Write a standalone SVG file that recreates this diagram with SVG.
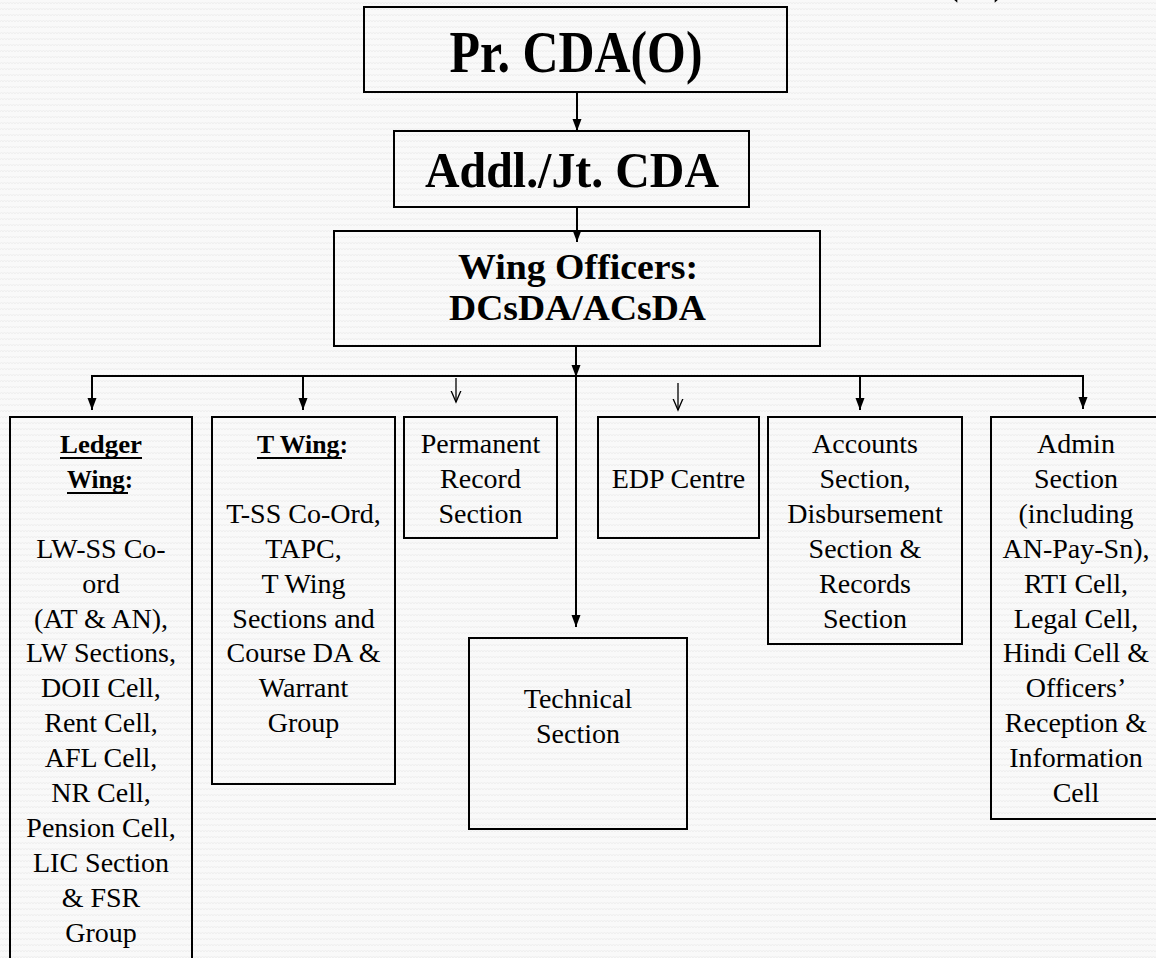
<svg xmlns="http://www.w3.org/2000/svg" width="1156" height="958" viewBox="0 0 1156 958">
  <defs>
    <pattern id="bg" width="6" height="6" patternUnits="userSpaceOnUse">
      <rect width="6" height="6" fill="#f9f9f9"/>
      <path d="M0,4 L1.5,2 L3,4 L4.5,2 L6,4" stroke="#efefef" fill="none" stroke-width="1"/>
    </pattern>
    <marker id="fa" markerUnits="userSpaceOnUse" markerWidth="12" markerHeight="10" refX="12" refY="4.5" orient="auto">
      <path d="M0,0 L12,4.5 L0,9 Z" fill="#000"/>
    </marker>
    <marker id="oa" markerUnits="userSpaceOnUse" markerWidth="13" markerHeight="12" refX="11.5" refY="6" orient="auto">
      <path d="M0,1 L11.5,6 L0,11" fill="none" stroke="#000" stroke-width="1.3"/>
    </marker>
    <style>
      .box { fill: none; stroke: #000; stroke-width: 2; }
      .conn { stroke: #000; stroke-width: 2; fill: none; }
      .thin { stroke: #000; stroke-width: 1.3; fill: none; }
      .h { font-family: "Liberation Serif", "Times New Roman", serif; font-weight: bold; fill: #000; text-anchor: middle; }
      .t { font-family: "Liberation Serif", "Times New Roman", serif; font-size: 28px; fill: #000; text-anchor: middle; }
      .b { font-family: "Liberation Serif", "Times New Roman", serif; font-size: 26px; font-weight: bold; fill: #000; }
      .ul { stroke: #000; stroke-width: 2; }
    </style>
  </defs>
  <rect x="0" y="0" width="1156" height="958" fill="url(#bg)"/>

  <!-- cut-off title fragment -->
  <text class="h" x="944" y="-10" font-size="60" style="text-anchor:start" textLength="64" lengthAdjust="spacingAndGlyphs">(O)</text>

  <g id="connectors">
    <line class="conn" x1="577" y1="92" x2="577" y2="131" marker-end="url(#fa)"/>
    <line class="conn" x1="577" y1="207" x2="577" y2="242" marker-end="url(#fa)"/>
    <line class="conn" x1="576" y1="346" x2="576" y2="377" marker-end="url(#fa)"/>
    <line class="conn" x1="576" y1="376" x2="576" y2="627" marker-end="url(#fa)"/>
    <line class="conn" x1="91" y1="376" x2="1084" y2="376"/>
    <line class="conn" x1="92" y1="377" x2="92" y2="410" marker-end="url(#fa)"/>
    <line class="conn" x1="303" y1="377" x2="303" y2="410" marker-end="url(#fa)"/>
    <line class="thin" x1="456" y1="378" x2="456" y2="402" marker-end="url(#oa)"/>
    <line class="thin" x1="678" y1="383" x2="678" y2="410" marker-end="url(#oa)"/>
    <line class="conn" x1="860" y1="377" x2="860" y2="410" marker-end="url(#fa)"/>
    <line class="conn" x1="1083" y1="375" x2="1083" y2="409" marker-end="url(#fa)"/>
  </g>

  <g id="pr-cda">
    <rect class="box" x="364" y="7" width="423" height="85"/>
    <text class="h" x="576" y="72" font-size="60" textLength="253" lengthAdjust="spacingAndGlyphs">Pr. CDA(O)</text>
  </g>

  <g id="addl-cda">
    <rect class="box" x="394" y="131" width="355" height="76"/>
    <text class="h" x="572" y="187" font-size="51" textLength="294" lengthAdjust="spacingAndGlyphs">Addl./Jt. CDA</text>
  </g>

  <g id="wing-officers">
    <rect class="box" x="334" y="231" width="486" height="115"/>
    <text class="h" x="578" y="279" font-size="36" textLength="240" lengthAdjust="spacingAndGlyphs">Wing Officers:</text>
    <text class="h" x="577.5" y="320" font-size="36" textLength="257" lengthAdjust="spacingAndGlyphs">DCsDA/ACsDA</text>
  </g>

  <g id="ledger-wing">
    <rect class="box" x="10" y="417" width="182" height="560"/>
    <text class="b" x="60" y="453" textLength="82" lengthAdjust="spacingAndGlyphs">Ledger</text>
    <line class="ul" x1="60" y1="458" x2="142" y2="458"/>
    <text class="b" x="67" y="488" textLength="66" lengthAdjust="spacingAndGlyphs">Wing:</text>
    <line class="ul" x1="67" y1="493" x2="128" y2="493"/>
    <text class="t" x="101" y="557.7">LW-SS Co-</text>
    <text class="t" x="101" y="592.6">ord</text>
    <text class="t" x="101" y="627.5">(AT &amp; AN),</text>
    <text class="t" x="101" y="662.4">LW Sections,</text>
    <text class="t" x="101" y="697.3">DOII Cell,</text>
    <text class="t" x="101" y="732.2">Rent Cell,</text>
    <text class="t" x="101" y="767.1">AFL Cell,</text>
    <text class="t" x="101" y="802">NR Cell,</text>
    <text class="t" x="101" y="836.9">Pension Cell,</text>
    <text class="t" x="101" y="871.8">LIC Section</text>
    <text class="t" x="101" y="906.7">&amp; FSR</text>
    <text class="t" x="101" y="941.6">Group</text>
  </g>

  <g id="t-wing">
    <rect class="box" x="212" y="417" width="183" height="367"/>
    <text class="b" x="257" y="453" textLength="91" lengthAdjust="spacingAndGlyphs">T Wing:</text>
    <line class="ul" x1="257" y1="458" x2="342" y2="458"/>
    <text class="t" x="303.5" y="522.8">T-SS Co-Ord,</text>
    <text class="t" x="303.5" y="557.7">TAPC,</text>
    <text class="t" x="303.5" y="592.6">T Wing</text>
    <text class="t" x="303.5" y="627.5">Sections and</text>
    <text class="t" x="303.5" y="662.4">Course DA &amp;</text>
    <text class="t" x="303.5" y="697.3">Warrant</text>
    <text class="t" x="303.5" y="732.2">Group</text>
  </g>

  <g id="permanent-record">
    <rect class="box" x="404" y="417" width="153" height="121"/>
    <text class="t" x="480.5" y="453">Permanent</text>
    <text class="t" x="480.5" y="487.9">Record</text>
    <text class="t" x="480.5" y="522.8">Section</text>
  </g>

  <g id="technical-section">
    <rect class="box" x="469" y="638" width="218" height="191"/>
    <text class="t" x="578" y="708">Technical</text>
    <text class="t" x="578" y="743">Section</text>
  </g>

  <g id="edp-centre">
    <rect class="box" x="598" y="417" width="161" height="121"/>
    <text class="t" x="678.5" y="488">EDP Centre</text>
  </g>

  <g id="accounts-section">
    <rect class="box" x="768" y="417" width="194" height="227"/>
    <text class="t" x="865" y="453">Accounts</text>
    <text class="t" x="865" y="487.9">Section,</text>
    <text class="t" x="865" y="522.8">Disbursement</text>
    <text class="t" x="865" y="557.7">Section &amp;</text>
    <text class="t" x="865" y="592.6">Records</text>
    <text class="t" x="865" y="627.5">Section</text>
  </g>

  <g id="admin-section">
    <rect class="box" x="991" y="417" width="175" height="402"/>
    <text class="t" x="1076" y="453">Admin</text>
    <text class="t" x="1076" y="487.9">Section</text>
    <text class="t" x="1076" y="522.8">(including</text>
    <text class="t" x="1076" y="557.7">AN-Pay-Sn),</text>
    <text class="t" x="1076" y="592.6">RTI Cell,</text>
    <text class="t" x="1076" y="627.5">Legal Cell,</text>
    <text class="t" x="1076" y="662.4">Hindi Cell &amp;</text>
    <text class="t" x="1076" y="697.3">Officers’</text>
    <text class="t" x="1076" y="732.2">Reception &amp;</text>
    <text class="t" x="1076" y="767.1">Information</text>
    <text class="t" x="1076" y="802">Cell</text>
  </g>
</svg>
